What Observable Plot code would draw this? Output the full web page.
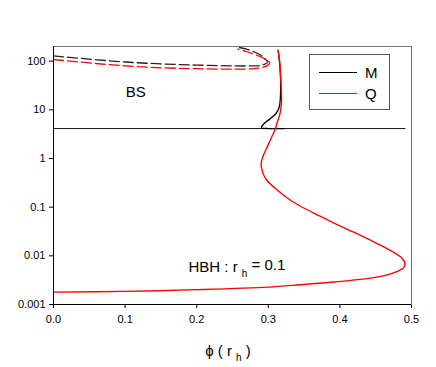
<!DOCTYPE html>
<html>
<head>
<meta charset="utf-8">
<script src="https://cdn.jsdelivr.net/npm/d3@7"></script>
<script src="https://cdn.jsdelivr.net/npm/@observablehq/plot@0.6"></script>
<style>
  html, body { margin: 0; padding: 0; background: white; }
  #wrap { position: relative; width: 436px; height: 367px; font-family: "Liberation Sans", Arial, sans-serif; }
  #legend { position: absolute; left: 309px; top: 54px; width: 81px; height: 56px; border: 1px solid #555; background: white; box-sizing: border-box; }
  .lg-line { position: absolute; left: 9px; width: 38px; height: 0; }
  .lg-text { position: absolute; left: 55px; font-size: 15px; line-height: 15px; color: #000; }
</style>
</head>
<body>
<div id="wrap">
  <div id="chart"></div>
  <div id="legend">
    <div class="lg-line" style="top:17px;border-top:1px solid #000;"></div>
    <div class="lg-text" style="top:10px;">M</div>
    <div class="lg-line" style="top:38px;border-top:1px solid #ff0000;"></div>
    <div class="lg-text" style="top:31px;">Q</div>
  </div>
</div>
<script>
// Axis ticks
const xTicks = [0, 0.1, 0.2, 0.3, 0.4, 0.5];
const xTickLabels = ["0.0", "0.1", "0.2", "0.3", "0.4", "0.5"];
const yTicks = [0.001, 0.01, 0.1, 1, 10, 100];
const yTickLabels = ["0.001", "0.01", "0.1", "1", "10", "100"];

// Boson star branch (dashed), M (black)
const bsMx = [0, 0.05, 0.1, 0.15, 0.2, 0.25, 0.28, 0.289, 0.296, 0.2993, 0.295, 0.289, 0.2705, 0.2588];
const bsMy = [128, 110, 96, 88, 83, 80, 80, 82, 88, 96, 112, 134, 175, 192];
// Boson star branch (dashed), Q (red)
const bsQx = [0, 0.05, 0.1, 0.15, 0.2, 0.25, 0.28, 0.289, 0.298, 0.302, 0.297, 0.289, 0.2705, 0.2574];
const bsQy = [108, 92, 80, 73, 70, 68.5, 70, 73, 80, 92, 106, 123, 156, 177];

// Hairy black hole branch, M (black solid)
const hbhMx = [0.3138, 0.3155, 0.317, 0.3172, 0.3165, 0.315, 0.311, 0.305, 0.298, 0.293, 0.2905, 0.291, 0.296, 0.322];
const hbhMy = [169, 100, 50, 25, 15, 11, 8.5, 7, 5.8, 5, 4.5, 4.25, 4.15, 4.12];

// Hairy black hole branch, Q (red solid)
const hbhQx = [0.3138, 0.3165, 0.317, 0.3182, 0.3184, 0.316, 0.3125, 0.310, 0.305, 0.2985, 0.2926, 0.2900, 0.2915, 0.298, 0.3128, 0.331, 0.345, 0.3683, 0.3911, 0.4102, 0.4288, 0.4469, 0.4651, 0.4763, 0.4846, 0.4895, 0.4909, 0.4888, 0.4818, 0.4707, 0.4567, 0.4381, 0.391, 0.345, 0.300, 0.2007, 0.100, 0.0];
const hbhQy = [160, 80, 56, 25, 13.5, 8, 5.5, 4.14, 2.8, 1.73, 1.1, 0.79, 0.55, 0.357, 0.223, 0.1387, 0.1044, 0.0698, 0.0478, 0.0351, 0.0264, 0.0194, 0.01426, 0.01153, 0.00953, 0.00789, 0.00669, 0.00566, 0.00491, 0.00426, 0.00379, 0.0034, 0.00289, 0.00255, 0.00228, 0.00202, 0.00186, 0.0018];

// Horizontal reference line
const refLineX = [0, 0.491];
const refLineY = 4.12;

const toPts = (xs, ys) => xs.map((x, i) => ({x, y: ys[i]}));

const chart = Plot.plot({
  width: 436,
  height: 367,
  marginTop: 46,
  marginRight: 25,
  marginBottom: 63,
  marginLeft: 53,
  style: { fontFamily: "'Liberation Sans', Arial, sans-serif", fontSize: "11px", background: "white", color: "black", overflow: "visible" },
  x: { domain: [0, 0.5], ticks: xTicks, tickFormat: d => xTickLabels[xTicks.indexOf(d)], tickSize: 4, tickPadding: 7, label: null },
  y: { type: "log", domain: [0.001, 200], ticks: yTicks, tickFormat: d => yTickLabels[yTicks.indexOf(d)], tickSize: 4, tickPadding: 4, label: null },
  marks: [
    Plot.frame({ stroke: "#777", strokeWidth: 1 }),
    Plot.line(toPts(refLineX, [refLineY, refLineY]), { x: "x", y: "y", stroke: "#111", strokeWidth: 1 }),
    Plot.line(toPts(bsMx, bsMy), { x: "x", y: "y", stroke: "#222", strokeWidth: 1.3, strokeDasharray: "10,4", curve: "catmull-rom" }),
    Plot.line(toPts(bsQx, bsQy), { x: "x", y: "y", stroke: "#ff0000", strokeWidth: 1.3, strokeDasharray: "10,4", curve: "catmull-rom" }),
    Plot.line(toPts(hbhMx, hbhMy), { x: "x", y: "y", stroke: "#000", strokeWidth: 1.3, curve: "catmull-rom" }),
    Plot.line(toPts(hbhQx, hbhQy), { x: "x", y: "y", stroke: "#ff0000", strokeWidth: 1.4, curve: "catmull-rom" }),
    Plot.ruleX([0], { stroke: "#000" }),
    Plot.ruleY([0.001], { stroke: "#000" }),
    Plot.text(["BS"], { x: 0.115, y: 23, text: d => d, fontSize: 15, fill: "#000" }),
    Plot.text(["HBH : r_h = 0.1"], { x: 0.1885, y: 0.0058, text: d => d, fontSize: 15, textAnchor: "start", fill: "#000" })
  ]
});

document.getElementById("chart").appendChild(chart);

// Subscript formatting for annotation
const svg = d3.select(chart);
svg.selectAll("text").filter(function() { return this.textContent === "HBH : r_h = 0.1"; })
  .each(function() {
    const t = d3.select(this);
    t.text(null);
    t.append("tspan").text("HBH : r ");
    t.append("tspan").attr("font-size", 10).attr("dy", "0.45em").text("h");
    t.append("tspan").attr("dy", "-0.45em").text(" = 0.1");
  });

// x-axis title
const xt = svg.append("text")
  .attr("x", 228).attr("y", 356)
  .attr("text-anchor", "middle")
  .attr("font-size", 15)
  .attr("fill", "#000");
xt.append("tspan").text("ϕ ( r ");
xt.append("tspan").attr("font-size", 10).attr("dy", "0.45em").text("h");
xt.append("tspan").attr("dy", "-0.3em").text(" )");
</script>
</body>
</html>
